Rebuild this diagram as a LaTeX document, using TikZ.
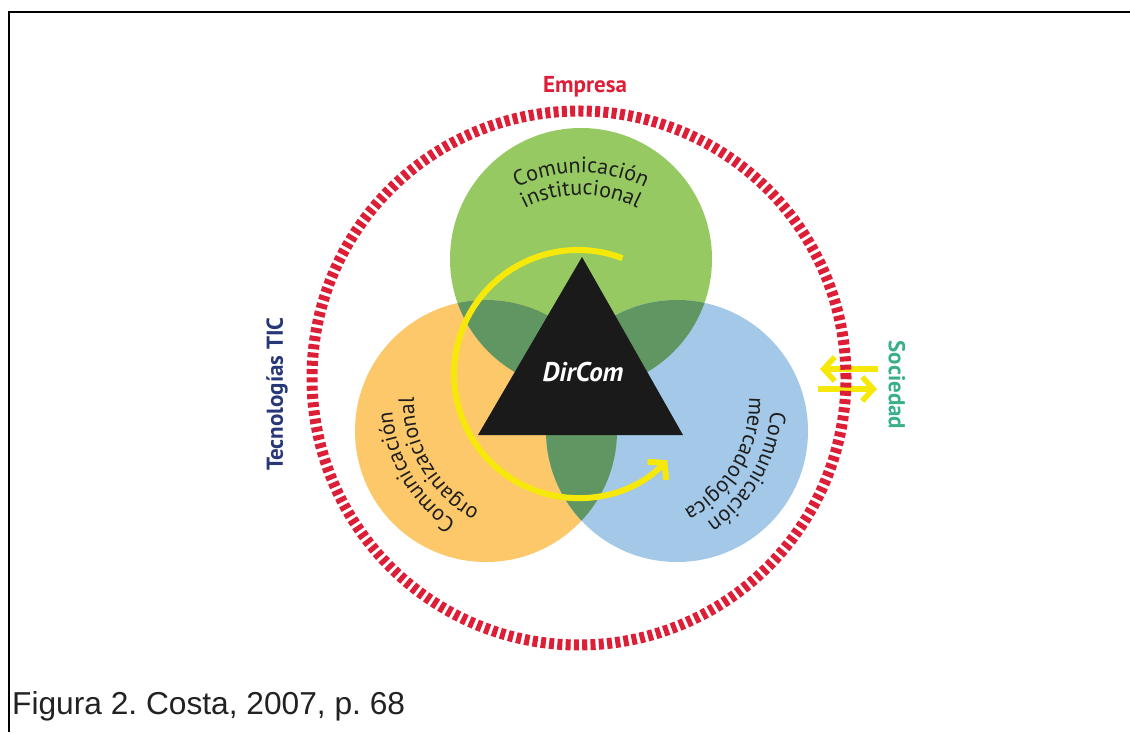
\documentclass[tikz,border=0pt]{standalone}
\usepackage{fontspec}
\setmainfont{PT Sans}
\newfontfamily\capfont{Liberation Sans}
\usetikzlibrary{decorations.text,arrows.meta}

\definecolor{cgreen}{RGB}{151,201,99}
\definecolor{corange}{RGB}{253,200,105}
\definecolor{cblue}{RGB}{163,200,232}
\definecolor{cdark}{RGB}{96,150,98}
\definecolor{cblack}{RGB}{26,26,26}
\definecolor{cred}{RGB}{221,30,55}
\definecolor{cyellow}{RGB}{246,233,10}
\definecolor{cnavy}{RGB}{40,55,120}
\definecolor{cteal}{RGB}{58,175,140}
\definecolor{ctext}{RGB}{30,30,30}
\definecolor{ccap}{RGB}{34,34,34}

\newcommand\lblfont{\fontsize{22}{26}\selectfont}

% two-line label bent along concentric arcs inside a circle;
% #1 centre, #2 rotation of the label, #3 outer line, #4 inner line
\newcommand\bentlabel[4]{%
  \begin{scope}[shift={#1}, rotate=#2]
    \path[decorate, decoration={text along path, text align=center,
      text={|\lblfont\color{ctext}|#3}}]
      ([shift={(150:146)}]0,-60) arc[start angle=150, end angle=30, radius=146];
    \path[decorate, decoration={text along path, text align=center,
      text={|\lblfont\color{ctext}|#4}}]
      ([shift={(150:124)}]0,-60) arc[start angle=150, end angle=30, radius=124];
  \end{scope}}

\tikzset{
  frameline/.style={line width=2.6pt, line join=miter},
  yarrow/.style={cyellow, line width=5.5pt, -{Straight Barb[length=11pt,width=24pt]}},
  sidelabel/.style={font=\bfseries\fontsize{23}{27}\selectfont},
}

\begin{document}
\frenchspacing
\begin{tikzpicture}[x=1pt,y=1pt]
\useasboundingbox (0,0) rectangle (1130,732);
\fill[white] (0,0) rectangle (1130,732);

% frame
\coordinate (ftr) at (1130,720);
\coordinate (ftl) at (9,720);
\coordinate (fbl) at (9,0);
\draw[frameline] (ftr) -- (ftl) -- (fbl);

% three circles
\coordinate (cg) at (581,473);
\coordinate (co) at (486,301);
\coordinate (cb) at (677,301);
\fill[cgreen] (cg) circle[radius=131];
\fill[corange] (co) circle[radius=131];
\fill[cblue] (cb) circle[radius=131];
\begin{scope}
  \clip (cg) circle[radius=131];
  \fill[cdark] (co) circle[radius=131];
  \fill[cdark] (cb) circle[radius=131];
\end{scope}
\begin{scope}
  \clip (co) circle[radius=131];
  \fill[cdark] (cb) circle[radius=131];
\end{scope}

% labels of the circles
\bentlabel{(cg)}{0}{Comunicación}{institucional}
\bentlabel{(co)}{120}{Comunicación}{organizacional}
\bentlabel{(cb)}{-120}{Comunicación}{mercadológica}

% central triangle
\coordinate (ta) at (582,475);
\coordinate (tl) at (478,297);
\coordinate (tr) at (683,297);
\fill[cblack] (ta) -- (tl) -- (tr) -- cycle;
\node[anchor=base, text=white, font=\bfseries\itshape\fontsize{27}{30}\selectfont]
  (dircom) at (583,350) {DirCom};

% circular yellow arrow
\coordinate (yc) at (578,358);
\draw[cyellow, line width=6pt, -{Straight Barb[length=11pt,width=26pt]}]
  ([shift={(69:124)}]yc) arc[start angle=69, end angle=316, radius=124];

% exchange arrows with society
\coordinate (a1s) at (878,363);
\coordinate (a1e) at (820,363);
\coordinate (a2s) at (818,343);
\coordinate (a2e) at (877,343);
\draw[yarrow] (a1s) -- (a1e);
\draw[yarrow] (a2s) -- (a2e);

% dashed company ring
\coordinate (rc) at (579,354);
\draw[cred, line width=11pt, dash pattern=on 5pt off 3.3pt] (rc) circle[radius=267];

% outer labels
\node[sidelabel, anchor=base, text=cred] (empresa) at (585,639) {Empresa};
\node[sidelabel, rotate=90, text=cnavy] (tic) at (277,338) {Tecnologías TIC};
\node[sidelabel, rotate=-90, text=cteal] (soc) at (897,347) {Sociedad};

% caption
\node[anchor=base west, inner sep=0, text=ccap, font=\capfont\fontsize{31.7}{36}\selectfont]
  (cap) at (12,18) {Figura 2. Costa, 2007, p. 68};
\end{tikzpicture}
\end{document}
